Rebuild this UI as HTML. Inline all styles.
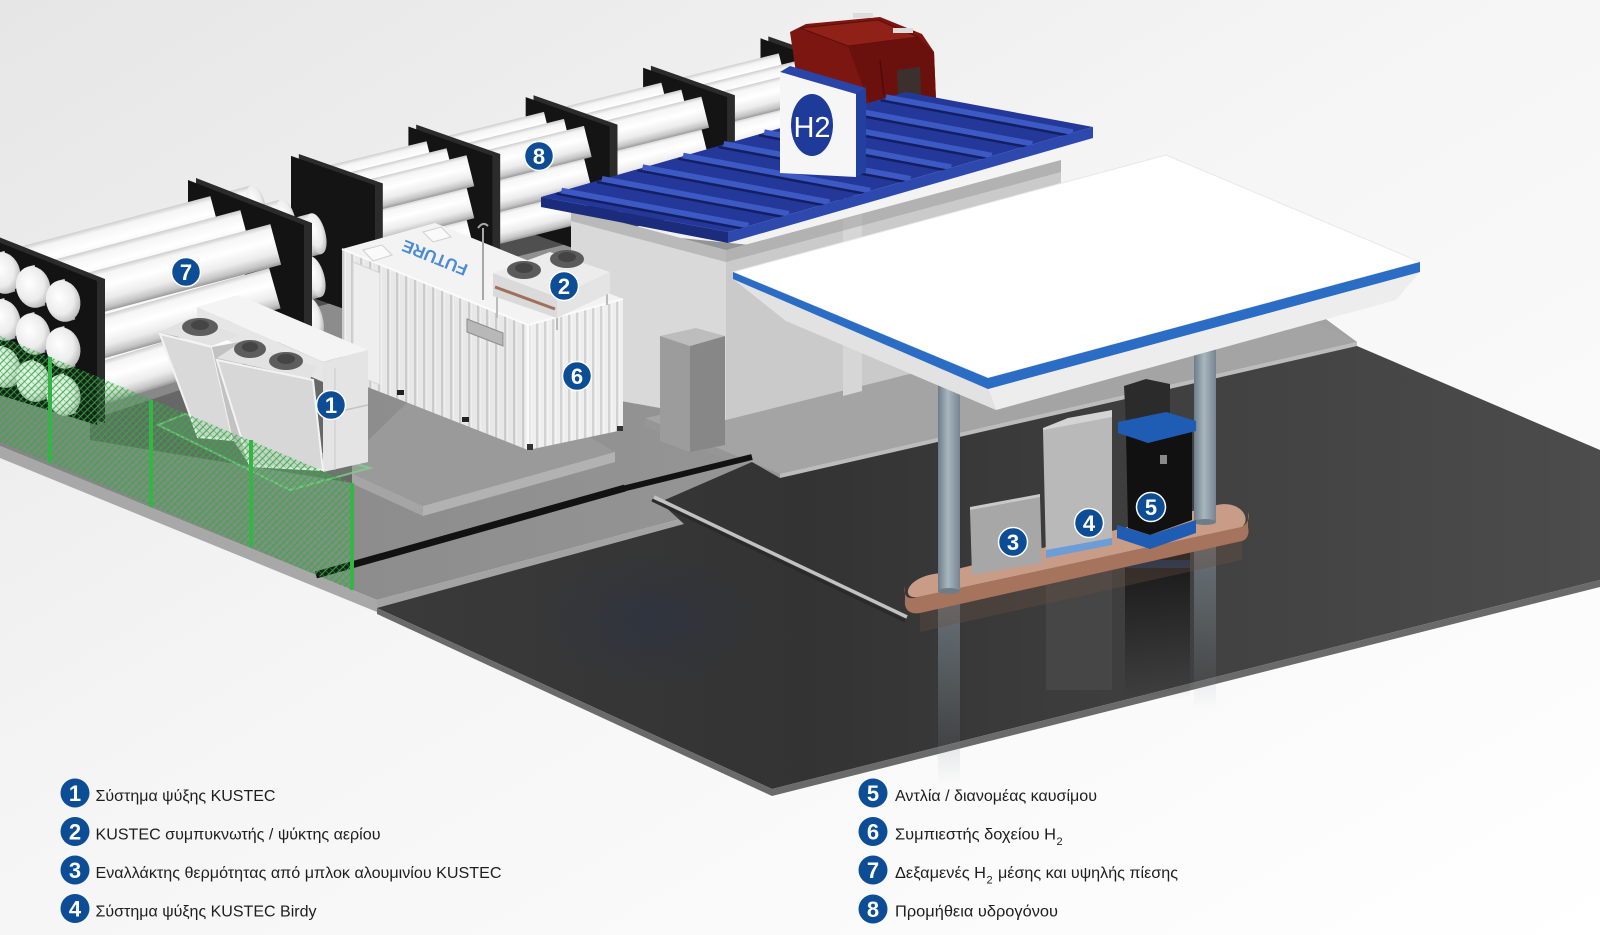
<!DOCTYPE html>
<html><head><meta charset="utf-8">
<style>
html,body{margin:0;padding:0;background:#fff;}
svg{display:block;}
text{font-family:"Liberation Sans","DejaVu Sans",sans-serif;}
</style></head><body>
<svg width="1600" height="935" viewBox="0 0 1600 935" xmlns="http://www.w3.org/2000/svg">
<defs>
 <linearGradient id="bg" x1="0" y1="0" x2="1" y2="1">
  <stop offset="0" stop-color="#e6e6e6"/>
  <stop offset="0.45" stop-color="#f5f5f5"/>
  <stop offset="1" stop-color="#ffffff"/>
 </linearGradient>
 <linearGradient id="cyl" x1="0" y1="0" x2="0" y2="1">
  <stop offset="0" stop-color="#cdcdcd"/>
  <stop offset="0.12" stop-color="#f5f5f5"/>
  <stop offset="0.4" stop-color="#ffffff"/>
  <stop offset="0.7" stop-color="#ececec"/>
  <stop offset="0.9" stop-color="#c4c4c4"/>
  <stop offset="1" stop-color="#9a9a9a"/>
 </linearGradient>
 <radialGradient id="cap" cx="0.42" cy="0.38" r="0.65">
  <stop offset="0" stop-color="#ffffff"/>
  <stop offset="0.65" stop-color="#ececec"/>
  <stop offset="1" stop-color="#b8b8b8"/>
 </radialGradient>
 <linearGradient id="slab" x1="0" y1="0" x2="1" y2="0">
  <stop offset="0" stop-color="#858585"/>
  <stop offset="1" stop-color="#a2a2a2"/>
 </linearGradient>
 <linearGradient id="floor" x1="0" y1="0" x2="1" y2="0">
  <stop offset="0" stop-color="#3a3a3a"/>
  <stop offset="0.35" stop-color="#333333"/>
  <stop offset="0.7" stop-color="#424242"/>
  <stop offset="1" stop-color="#4c4c4c"/>
 </linearGradient>
 <linearGradient id="col" x1="0" y1="0" x2="1" y2="0">
  <stop offset="0" stop-color="#6d7d88"/>
  <stop offset="0.45" stop-color="#a9b6bf"/>
  <stop offset="1" stop-color="#75858f"/>
 </linearGradient>
 <linearGradient id="refl" x1="0" y1="0" x2="0" y2="1">
  <stop offset="0" stop-color="#7b8891" stop-opacity="0.7"/>
  <stop offset="1" stop-color="#7b8891" stop-opacity="0"/>
 </linearGradient>
 <linearGradient id="reflD" x1="0" y1="0" x2="0" y2="1">
  <stop offset="0" stop-color="#0c0c0c" stop-opacity="0.8"/>
  <stop offset="1" stop-color="#0c0c0c" stop-opacity="0"/>
 </linearGradient>
 <radialGradient id="bref" cx="0.5" cy="0.5" r="0.5">
  <stop offset="0" stop-color="#2a3346" stop-opacity="0.55"/>
  <stop offset="1" stop-color="#2a3346" stop-opacity="0"/>
 </radialGradient>
 <pattern id="ribS" width="9" height="10" patternUnits="userSpaceOnUse">
  <rect width="9" height="10" fill="#e8e8e8"/><rect x="0" width="2.5" height="10" fill="#cbcbcb"/><rect x="2.5" width="1" height="10" fill="#f9f9f9"/>
 </pattern>
 <pattern id="ribE" width="8" height="10" patternUnits="userSpaceOnUse">
  <rect width="8" height="10" fill="#efefef"/><rect x="0" width="2.5" height="10" fill="#d2d2d2"/><rect x="2.5" width="1" height="10" fill="#fbfbfb"/>
 </pattern>
 <pattern id="mesh" width="7" height="7" patternUnits="userSpaceOnUse">
  <path d="M0,7 L7,0 M-1,1 L1,-1 M6,8 L8,6" stroke="#2fae3e" stroke-width="1.2" fill="none" opacity="0.85"/>
  <path d="M0,0 L7,7" stroke="#2fae3e" stroke-width="0.8" fill="none" opacity="0.55"/>
 </pattern>
 <g id="t7b"><rect x="224" y="-21" width="34" height="42" fill="url(#cyl)"/><ellipse cx="258" cy="0" rx="9" ry="21" fill="url(#cap)"/></g>
 <g id="t7m"><rect x="11" y="-21" width="205" height="42" fill="url(#cyl)"/></g>
 <g id="t7f"><rect x="-4" y="-21" width="7" height="42" fill="url(#cyl)"/><ellipse cx="-4" cy="0" rx="17" ry="21" fill="url(#cap)"/></g>
 <g id="s0"><rect x="8" y="-16" width="113" height="32" fill="url(#cyl)"/></g>
 <g id="s1"><rect x="129" y="-16" width="113" height="32" fill="url(#cyl)"/></g>
 <g id="s2"><rect x="250" y="-16" width="113" height="32" fill="url(#cyl)"/></g>
 <g id="s3"><rect x="371" y="-16" width="113" height="32" fill="url(#cyl)"/></g>
 <g id="s4"><rect x="492" y="-16" width="38" height="32" fill="url(#cyl)"/><ellipse cx="530" cy="0" rx="8" ry="16" fill="url(#cap)"/></g>
</defs>

<!-- background -->
<rect width="1600" height="935" fill="url(#bg)"/>

<!-- ground slab -->
<polygon points="0,280 600,230 1300,300 1357,342 780,474 684,518 377,600 0,446" fill="url(#slab)"/>
<polygon points="0,446 377,600 377,612 0,458" fill="#a8a8a8"/>
<polygon points="377,600 684,518 684,525 377,610" fill="#a3a3a3"/>

<!-- building platform -->
<polygon points="645,418 1061,330 1300,316 1357,342 780,474" fill="#a4a4a4"/>
<polygon points="780,474 1357,342 1357,349 780,482" fill="#bcbcbc"/>
<polygon points="645,418 780,474 780,482 645,426" fill="#969696"/>

<!-- dark floor -->
<polygon points="377,608 684,524 660,502 752,462 780,478 1357,346 1600,450 1600,580 772,789" fill="url(#floor)"/>
<polygon points="377,608 772,789 1600,580 1600,587 772,796 377,614" fill="#6a6a6a"/>
<ellipse cx="650" cy="620" rx="110" ry="70" fill="url(#bref)"/>
<rect x="938" y="600" width="22" height="185" fill="url(#refl)"/>
<rect x="1194" y="540" width="22" height="170" fill="url(#refl)"/>
<rect x="1046" y="560" width="66" height="130" fill="#5a5a5a" opacity="0.35"/>
<rect x="1125" y="548" width="65" height="150" fill="url(#reflD)"/>
<rect x="1125" y="560" width="65" height="8" fill="#1f5db5" opacity="0.35"/>
<polygon points="920,612 1242,541 1242,560 920,632" fill="#6b5045" opacity="0.35"/>

<!-- trench lines & curb -->
<line x1="316" y1="575" x2="625" y2="488" stroke="#121212" stroke-width="7"/>
<line x1="622" y1="489" x2="752" y2="457" stroke="#121212" stroke-width="6"/>
<line x1="652" y1="500" x2="905" y2="621" stroke="#2a2a2a" stroke-width="3"/>
<line x1="654" y1="497" x2="907" y2="617" stroke="#c2c2c2" stroke-width="3.5"/>

<!-- pad under container/coolers -->
<polygon points="340,468 423,506 615,452 560,420 430,380" fill="#9a9a9a"/>
<polygon points="423,506 615,452 615,462 423,516" fill="#b2b2b2"/>
<polygon points="340,468 423,506 423,516 340,478" fill="#a5a5a5"/>

<!-- tanks 8 -->
<polygon points="300,293 870,150 870,168 300,311" fill="#4f4f4f"/>
<g>
 <use href="#s4" transform="translate(313,250) rotate(-14)"/><use href="#s4" transform="translate(313,218) rotate(-14)"/><use href="#s4" transform="translate(313,186) rotate(-14)"/>
 <use href="#s4" transform="translate(333,257) rotate(-14)"/><use href="#s4" transform="translate(333,225) rotate(-14)"/><use href="#s4" transform="translate(333,193) rotate(-14)"/>
 <use href="#s4" transform="translate(353,264) rotate(-14)"/><use href="#s4" transform="translate(353,232) rotate(-14)"/><use href="#s4" transform="translate(353,200) rotate(-14)"/>
</g>
<polygon points="852.3,65.8 768.3,36.4 768.3,170.8 852.3,200.2" fill="#2b2b2b"/>
<polygon points="844.5,67.7 760.5,38.3 760.5,172.7 844.5,202.1" fill="#141414"/>
<g>
 <use href="#s3" transform="translate(313,250) rotate(-14)"/><use href="#s3" transform="translate(313,218) rotate(-14)"/><use href="#s3" transform="translate(313,186) rotate(-14)"/>
 <use href="#s3" transform="translate(333,257) rotate(-14)"/><use href="#s3" transform="translate(333,225) rotate(-14)"/><use href="#s3" transform="translate(333,193) rotate(-14)"/>
 <use href="#s3" transform="translate(353,264) rotate(-14)"/><use href="#s3" transform="translate(353,232) rotate(-14)"/><use href="#s3" transform="translate(353,200) rotate(-14)"/>
</g>
<polygon points="734.9,95.2 650.9,65.8 650.9,200.2 734.9,229.6" fill="#2b2b2b"/>
<polygon points="727.1,97.1 643.1,67.7 643.1,202.1 727.1,231.5" fill="#141414"/>
<g>
 <use href="#s2" transform="translate(313,250) rotate(-14)"/><use href="#s2" transform="translate(313,218) rotate(-14)"/><use href="#s2" transform="translate(313,186) rotate(-14)"/>
 <use href="#s2" transform="translate(333,257) rotate(-14)"/><use href="#s2" transform="translate(333,225) rotate(-14)"/><use href="#s2" transform="translate(333,193) rotate(-14)"/>
 <use href="#s2" transform="translate(353,264) rotate(-14)"/><use href="#s2" transform="translate(353,232) rotate(-14)"/><use href="#s2" transform="translate(353,200) rotate(-14)"/>
</g>
<polygon points="617.5,124.6 533.5,95.2 533.5,229.6 617.5,259" fill="#2b2b2b"/>
<polygon points="609.7,126.5 525.7,97.1 525.7,231.5 609.7,260.9" fill="#141414"/>
<g>
 <use href="#s1" transform="translate(313,250) rotate(-14)"/><use href="#s1" transform="translate(313,218) rotate(-14)"/><use href="#s1" transform="translate(313,186) rotate(-14)"/>
 <use href="#s1" transform="translate(333,257) rotate(-14)"/><use href="#s1" transform="translate(333,225) rotate(-14)"/><use href="#s1" transform="translate(333,193) rotate(-14)"/>
 <use href="#s1" transform="translate(353,264) rotate(-14)"/><use href="#s1" transform="translate(353,232) rotate(-14)"/><use href="#s1" transform="translate(353,200) rotate(-14)"/>
</g>
<polygon points="500.2,154 416.2,124.6 416.2,259 500.2,288.4" fill="#2b2b2b"/>
<polygon points="492.4,155.9 408.4,126.5 408.4,260.9 492.4,290.3" fill="#141414"/>
<g>
 <use href="#s0" transform="translate(313,250) rotate(-14)"/><use href="#s0" transform="translate(313,218) rotate(-14)"/><use href="#s0" transform="translate(313,186) rotate(-14)"/>
 <use href="#s0" transform="translate(333,257) rotate(-14)"/><use href="#s0" transform="translate(333,225) rotate(-14)"/><use href="#s0" transform="translate(333,193) rotate(-14)"/>
 <use href="#s0" transform="translate(353,264) rotate(-14)"/><use href="#s0" transform="translate(353,232) rotate(-14)"/><use href="#s0" transform="translate(353,200) rotate(-14)"/>
</g>
<polygon points="382.8,183.4 298.8,154 298.8,288.4 382.8,317.8" fill="#2b2b2b"/>
<polygon points="375,185.3 291,155.9 291,290.3 375,319.7" fill="#141414"/>

<!-- truck -->
<polygon points="790,32 806,24 880,17 922,34 934,52 936,100 870,106 800,100" fill="#7c1611"/>
<polygon points="800,28 878,20 918,37 848,46" fill="#8f2119" stroke="#5e0e0a" stroke-width="1"/>
<polygon points="848,46 918,37 934,52 936,100 870,106" fill="#6a110d"/>
<polygon points="897,70 920,67 921,96 898,98" fill="#3b302e"/>
<path d="M880,60 L884,95" stroke="#4e0b08" stroke-width="1.5" fill="none"/>
<rect x="853" y="13" width="20" height="5" fill="#dcdcdc"/>
<rect x="893" y="28" width="20" height="5" fill="#dcdcdc"/>

<!-- building -->
<polygon points="571,209 726,250 726,420 571,392" fill="#d9d9d9"/>
<polygon points="726,250 1061,160 1061,336 726,420" fill="#cacaca"/>
<polygon points="843,219 862,214 862,391 843,396" fill="#d6d6d6"/>
<polygon points="571,209 726,250 1061,160 1061,172 726,262 571,221" fill="#9a9a9a" opacity="0.5"/>

<!-- roof -->
<polygon points="541,197 906,92 1093,127 728,232" fill="#24389a"/>
<g stroke-linecap="butt">
 <g stroke="#3d5ac4" stroke-width="7">
  <line x1="561.3" y1="191.2" x2="748.3" y2="226.2"/><line x1="601.8" y1="179.5" x2="788.8" y2="214.5"/>
  <line x1="642.4" y1="167.8" x2="829.4" y2="202.8"/><line x1="683" y1="156.2" x2="870" y2="191.2"/>
  <line x1="723.5" y1="144.5" x2="910.5" y2="179.5"/><line x1="764.1" y1="132.8" x2="951.1" y2="167.8"/>
  <line x1="804.6" y1="121.2" x2="991.6" y2="156.2"/><line x1="845.2" y1="109.5" x2="1032.2" y2="144.5"/>
  <line x1="885.7" y1="97.8" x2="1072.7" y2="132.8"/>
 </g>
 <g stroke="#131f62" stroke-width="2.5">
  <line x1="556.3" y1="193.7" x2="743.3" y2="228.7"/><line x1="596.8" y1="182" x2="783.8" y2="217"/>
  <line x1="637.4" y1="170.3" x2="824.4" y2="205.3"/><line x1="678" y1="158.7" x2="865" y2="193.7"/>
  <line x1="718.5" y1="147" x2="905.5" y2="182"/><line x1="759.1" y1="135.3" x2="946.1" y2="170.3"/>
  <line x1="799.6" y1="123.7" x2="986.6" y2="158.7"/><line x1="840.2" y1="112" x2="1027.2" y2="147"/>
  <line x1="880.7" y1="100.3" x2="1067.7" y2="135.3"/>
 </g>
</g>
<polygon points="541,197 728,232 728,243 541,207" fill="#1b2c7c"/>
<polygon points="728,232 1093,127 1093,138 728,243" fill="#2e49ad"/>

<!-- H2 sign -->
<polygon points="780,72 790,66 866,88 856,94" fill="#2a45a8"/>
<polygon points="856,94 866,88 866,172 856,177" fill="#2240a0"/>
<polygon points="780,72 856,94 856,177 780,173" fill="#f6f6f6"/>
<ellipse cx="812" cy="125" rx="21" ry="31" fill="#1f3b99"/>
<text x="812" y="137" font-size="29" fill="#ffffff" text-anchor="middle">H2</text>

<!-- cabinet near building -->
<polygon points="660,336 696,328 725,336 690,346" fill="#bdbdbd"/>
<polygon points="660,336 690,346 690,452 660,441" fill="#9c9c9c"/>
<polygon points="690,346 725,336 725,445 690,452" fill="#878787"/>

<!-- tanks 7 -->
<polygon points="90,420 330,340 352,350 352,483 90,440" fill="#676767"/>
<g>
 <use href="#t7b" transform="translate(7,366) rotate(-17.3)"/><use href="#t7b" transform="translate(7,319) rotate(-15.8)"/><use href="#t7b" transform="translate(7,272) rotate(-14.9)"/>
 <use href="#t7b" transform="translate(37,380) rotate(-17.3)"/><use href="#t7b" transform="translate(37,333) rotate(-15.8)"/><use href="#t7b" transform="translate(37,286) rotate(-14.9)"/>
 <use href="#t7b" transform="translate(67,394) rotate(-17.3)"/><use href="#t7b" transform="translate(67,347) rotate(-15.8)"/><use href="#t7b" transform="translate(67,300) rotate(-14.9)"/>
</g>
<polygon points="312,223 196,178 196,320 312,354" fill="#2b2b2b"/>
<polygon points="304,225 188,180 188,322 304,356" fill="#131313"/>
<g>
 <use href="#t7m" transform="translate(7,366) rotate(-17.3)"/><use href="#t7m" transform="translate(7,319) rotate(-15.8)"/><use href="#t7m" transform="translate(7,272) rotate(-14.9)"/>
 <use href="#t7m" transform="translate(37,380) rotate(-17.3)"/><use href="#t7m" transform="translate(37,333) rotate(-15.8)"/><use href="#t7m" transform="translate(37,286) rotate(-14.9)"/>
 <use href="#t7m" transform="translate(67,394) rotate(-17.3)"/><use href="#t7m" transform="translate(67,347) rotate(-15.8)"/><use href="#t7m" transform="translate(67,300) rotate(-14.9)"/>
</g>
<polygon points="105,279 -9,234 -9,388 105,423" fill="#2b2b2b"/>
<polygon points="97,281 -17,236 -17,390 97,425" fill="#131313"/>
<g>
 <use href="#t7f" transform="translate(7,366) rotate(-17.3)"/><use href="#t7f" transform="translate(7,319) rotate(-15.8)"/><use href="#t7f" transform="translate(7,272) rotate(-14.9)"/>
 <use href="#t7f" transform="translate(37,380) rotate(-17.3)"/><use href="#t7f" transform="translate(37,333) rotate(-15.8)"/><use href="#t7f" transform="translate(37,286) rotate(-14.9)"/>
 <use href="#t7f" transform="translate(67,394) rotate(-17.3)"/><use href="#t7f" transform="translate(67,347) rotate(-15.8)"/><use href="#t7f" transform="translate(67,300) rotate(-14.9)"/>
</g>

<!-- container 6 -->
<polygon points="342,249 528,325 528,450 342,377" fill="url(#ribS)"/>
<polygon points="528,325 623,299 623,430 528,450" fill="url(#ribE)"/>
<polygon points="342,249 435,223 623,299 528,325" fill="#f3f3f3"/>
<polygon points="353,262 380,273 380,385 353,374" fill="#eeeeee" stroke="#d4d4d4" stroke-width="1"/>
<polyline points="342,249 528,325 623,299" fill="none" stroke="#fbfbfb" stroke-width="2"/>
<line x1="528" y1="325" x2="528" y2="450" stroke="#fafafa" stroke-width="3"/>
<polygon points="467,319 503,333 503,346 467,332" fill="#b8b8b8" stroke="#8d8d8d" stroke-width="1"/>
<rect x="397" y="390" width="7" height="5" fill="#222"/><rect x="462" y="417" width="7" height="5" fill="#222"/>
<rect x="527" y="444" width="6" height="6" fill="#333"/><rect x="617" y="426" width="6" height="5" fill="#333"/>
<polygon points="363,250 382,245 392,255 373,261" fill="#fafafa" stroke="#cfcfcf" stroke-width="1"/>
<polygon points="423,232 441,227 451,237 433,242" fill="#fafafa" stroke="#cfcfcf" stroke-width="1"/>
<text x="435" y="262" font-size="17" font-weight="bold" fill="#4b8ad6" text-anchor="middle" transform="rotate(202 435 257)">FUTURE</text>
<line x1="483" y1="228" x2="483" y2="300" stroke="#a8a8a8" stroke-width="2"/>
<path d="M478,228 Q483,221 488,226" fill="none" stroke="#a8a8a8" stroke-width="2"/>
<!-- unit 2 -->
<line x1="497" y1="297" x2="497" y2="318" stroke="#bbb" stroke-width="2"/>
<line x1="557" y1="318" x2="557" y2="330" stroke="#bbb" stroke-width="2"/>
<line x1="607" y1="293" x2="607" y2="305" stroke="#bbb" stroke-width="2"/>
<polygon points="493,273 557,297 557,318 493,296" fill="#dadada"/>
<line x1="495" y1="287" x2="555" y2="309" stroke="#a0705a" stroke-width="3"/>
<polygon points="557,297 610,272 610,293 557,318" fill="#e4e4e4"/>
<polygon points="493,273 550,252 610,272 557,297" fill="#ececec"/>
<ellipse cx="524" cy="270" rx="17" ry="9" fill="#5b5b5b"/><ellipse cx="524" cy="268" rx="9" ry="5" fill="#444"/>
<ellipse cx="567" cy="259" rx="17" ry="9" fill="#5b5b5b"/><ellipse cx="567" cy="257" rx="9" ry="5" fill="#444"/>

<!-- coolers 1 -->
<polygon points="158,425 185,414 370,468 290,490" fill="#8fd39a" fill-opacity="0.15" stroke="#7fd08a" stroke-opacity="0.8" stroke-width="2"/>
<polygon points="197,307 323,362 323,382 197,327" fill="#e6e6e6"/>
<polygon points="197,307 238,295 368,350 323,362" fill="#f4f4f4"/>
<polygon points="323,362 368,350 368,462 323,472" fill="#e4e4e4"/>
<line x1="323" y1="415" x2="368" y2="405" stroke="#c4c4c4" stroke-width="1.5"/>
<line x1="335" y1="368" x2="335" y2="470" stroke="#c9c9c9" stroke-width="1"/>
<polygon points="160,332 190,318 240,335 212,346" fill="#e2e2e2"/>
<polygon points="160,334 212,347 233,440 198,437" fill="#d9d9d9" stroke="#f3f3f3" stroke-width="2"/>
<polygon points="212,347 240,342 250,466 233,440" fill="#c2c2c2"/>
<polygon points="217,358 240,343 317,367 310,379" fill="#e2e2e2"/>
<polygon points="217,360 313,380 323,470 250,466" fill="#d7d7d7" stroke="#f3f3f3" stroke-width="2"/>
<ellipse cx="200" cy="327" rx="18" ry="9" fill="#5d5d5d"/><ellipse cx="200" cy="325" rx="9" ry="5" fill="#454545"/>
<ellipse cx="250" cy="349" rx="16" ry="9" fill="#5d5d5d"/><ellipse cx="250" cy="347" rx="8" ry="5" fill="#454545"/>
<ellipse cx="286" cy="361" rx="17" ry="9" fill="#5d5d5d"/><ellipse cx="286" cy="359" rx="9" ry="5" fill="#454545"/>

<!-- fence -->
<polygon points="0,336 352,483 352,590 0,442" fill="#3cb44b" fill-opacity="0.1"/>
<polygon points="0,336 352,483 352,590 0,442" fill="url(#mesh)"/>
<g stroke="#34b545" stroke-width="4">
 <line x1="50" y1="357" x2="50" y2="463"/><line x1="151" y1="400" x2="151" y2="507"/>
 <line x1="251" y1="440" x2="251" y2="547"/><line x1="352" y1="483" x2="352" y2="590"/>
</g>

<!-- island and pumps -->
<path d="M905,586 C903,597 908,600 918,597 L1242,527 C1248,523 1250,518 1248,512 L1248,527 C1250,535 1246,540 1242,541 L920,613 C908,615 904,608 905,600 Z" fill="#a6735d"/>
<path d="M941,573 L1217,505 C1240,500 1252,518 1242,527 L918,597 C900,600 905,576 941,573 Z" fill="#c89c86"/>
<rect x="1194" y="340" width="22" height="182" fill="url(#col)"/>
<ellipse cx="1205" cy="522" rx="11" ry="3" fill="#6d7d88"/>
<polygon points="1043,428 1068,418 1112,410 1112,418 1043,431" fill="#d4d4d4"/>
<polygon points="1043,430 1112,417 1112,545 1046,558" fill="#b9b9b9"/>
<polygon points="1046,550 1112,538 1112,545 1046,558" fill="#6d9dd6"/>
<polygon points="1124,386 1146,379 1170,384 1170,420 1126,426" fill="#2b2b2b"/>
<polygon points="1126,433 1148,441 1192,429 1192,520 1150,535 1128,528" fill="#111111"/>
<polygon points="1118,422 1166,412 1196,421 1196,431 1148,443 1118,433" fill="#1f5db5"/>
<polygon points="1117,525 1150,535 1196,520 1196,533 1150,549 1117,538" fill="#1f5db5"/>
<rect x="1160" y="455" width="7" height="9" fill="#8a8a8a"/>
<polygon points="970,507 1040,494 1040,498 970,511" fill="#c9c9c9"/>
<polygon points="970,510 1040,497 1042,563 972,575" fill="#a7a7a7"/>
<rect x="938" y="380" width="22" height="211" fill="url(#col)"/>
<ellipse cx="949" cy="591" rx="11" ry="3" fill="#6d7d88"/>

<!-- canopy -->
<polygon points="733,279 988,389 996,410 786,321" fill="#e2e2e2"/>
<polygon points="988,389 1420,272 1396,300 996,410" fill="#ededed"/>
<polygon points="733,272 1166,155 1420,262 988,378" fill="#ffffff" stroke="#e8e8e8" stroke-width="1"/>
<polygon points="733,272 988,378 1420,262 1420,272 988,389 733,279" fill="#2b6cc4"/>

<!-- scene markers -->
<g stroke="#ffffff" stroke-width="1.5" fill="#0d4d96">
 <circle cx="331" cy="405" r="14.5"/><circle cx="564" cy="286" r="14.5"/>
 <circle cx="1013" cy="542" r="14.5"/><circle cx="1089" cy="523" r="14.5"/>
 <circle cx="1151" cy="507" r="14.5"/><circle cx="577" cy="376" r="14.5"/>
 <circle cx="186" cy="272" r="14.5"/><circle cx="539" cy="156" r="14.5"/>
</g>
<g fill="#ffffff" font-size="22" font-weight="bold" text-anchor="middle">
 <text x="331" y="413">1</text><text x="564" y="294">2</text>
 <text x="1013" y="550">3</text><text x="1089" y="531">4</text>
 <text x="1151" y="515">5</text><text x="577" y="384">6</text>
 <text x="186" y="280">7</text><text x="539" y="164">8</text>
</g>

<!-- legend -->
<g fill="#0d4d96">
 <circle cx="75" cy="793" r="14.5"/><circle cx="75" cy="831.5" r="14.5"/>
 <circle cx="75" cy="870" r="14.5"/><circle cx="75" cy="908.5" r="14.5"/>
 <circle cx="873" cy="793" r="14.5"/><circle cx="873" cy="831.5" r="14.5"/>
 <circle cx="873" cy="870" r="14.5"/><circle cx="873" cy="909" r="14.5"/>
</g>
<g fill="#ffffff" font-size="22" font-weight="bold" text-anchor="middle">
 <text x="75" y="801">1</text><text x="75" y="839.5">2</text>
 <text x="75" y="878">3</text><text x="75" y="916.5">4</text>
 <text x="873" y="801">5</text><text x="873" y="839.5">6</text>
 <text x="873" y="878">7</text><text x="873" y="917">8</text>
</g>
<g fill="#1e1e1e" font-size="15.5">
 <text x="95.5" y="801" textLength="180" lengthAdjust="spacingAndGlyphs">Σύστημα ψύξης KUSTEC</text>
 <text x="95.5" y="839.5" textLength="285" lengthAdjust="spacingAndGlyphs">KUSTEC συμπυκνωτής / ψύκτης αερίου</text>
 <text x="95.5" y="878" textLength="406" lengthAdjust="spacingAndGlyphs">Εναλλάκτης θερμότητας από μπλοκ αλουμινίου KUSTEC</text>
 <text x="95.5" y="916.5" textLength="221" lengthAdjust="spacingAndGlyphs">Σύστημα ψύξης KUSTEC Birdy</text>
 <text x="895" y="801" textLength="202" lengthAdjust="spacingAndGlyphs">Αντλία / διανομέας καυσίμου</text>
 <text x="895" y="839.5" textLength="161" lengthAdjust="spacingAndGlyphs">Συμπιεστής δοχείου H</text>
 <text x="1056.5" y="845" font-size="11">2</text>
 <text x="895" y="878" textLength="91" lengthAdjust="spacingAndGlyphs">Δεξαμενές H</text>
 <text x="986.5" y="883.5" font-size="11">2</text>
 <text x="998" y="878" textLength="180" lengthAdjust="spacingAndGlyphs">μέσης και υψηλής πίεσης</text>
 <text x="895" y="916.5" textLength="163" lengthAdjust="spacingAndGlyphs">Προμήθεια υδρογόνου</text>
</g>
</svg>
</body></html>
